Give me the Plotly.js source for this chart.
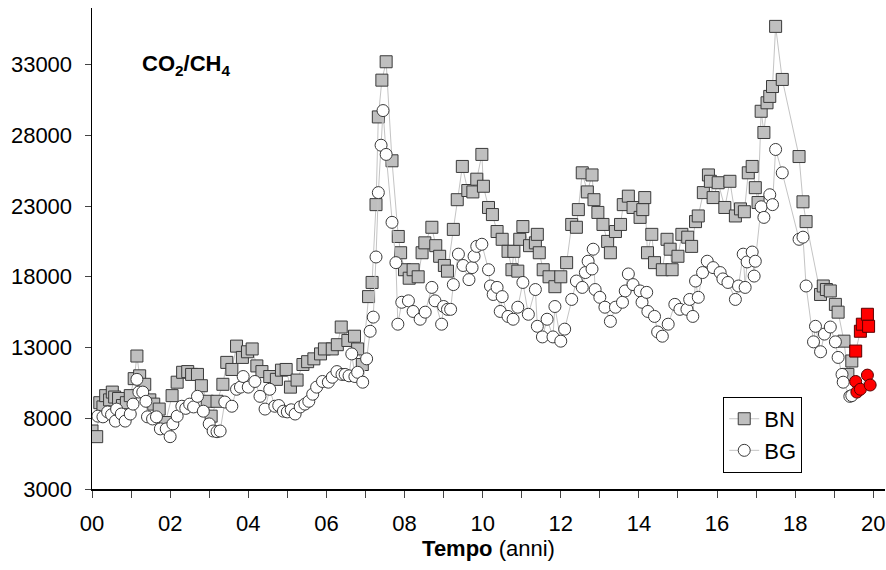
<!DOCTYPE html>
<html>
<head>
<meta charset="utf-8">
<script src="https://cdn.plot.ly/plotly-3.0.1.min.js"></script>
<style>html,body{margin:0;padding:0;background:#fff;}#chart{width:886px;height:570px;}</style>
</head>
<body>
<div id="chart"></div>
<script>
// BN series (years, CO2/CH4)
const bnT = [0.00,0.12,0.20,0.28,0.35,0.45,0.52,0.58,0.68,0.78,0.88,0.98,1.08,1.15,1.22,1.35,1.48,1.58,1.72,1.88,
2.05,2.18,2.32,2.45,2.55,2.70,2.80,2.95,3.05,3.20,3.35,3.45,3.58,3.70,3.85,3.98,4.10,4.22,4.35,4.55,4.72,4.85,4.97,
5.08,5.25,5.40,5.52,5.68,5.85,5.95,6.15,6.28,6.38,6.55,6.72,6.80,6.92,7.08,7.17,7.27,7.33,7.42,7.53,7.68,7.84,7.90,
8.00,8.12,8.22,8.35,8.45,8.52,8.70,8.80,8.90,9.02,9.10,9.25,9.35,9.48,9.62,9.75,9.85,9.98,10.02,10.15,10.25,10.37,
10.50,10.65,10.75,10.80,10.90,10.95,11.03,11.20,11.35,11.40,11.45,11.55,11.70,11.85,12.00,12.15,12.28,12.40,12.45,
12.55,12.68,12.80,12.85,12.95,13.08,13.20,13.27,13.40,13.53,13.60,13.73,13.85,14.03,14.10,14.15,14.22,14.33,14.40,
14.60,14.72,14.80,14.85,15.00,15.10,15.25,15.35,15.45,15.52,15.65,15.78,15.83,15.90,16.03,16.20,16.33,16.47,16.60,
16.70,16.80,16.90,16.98,17.05,17.13,17.20,17.28,17.35,17.42,17.50,17.67,18.10,18.20,18.28,18.65,18.72,18.80,18.90,
19.03,19.10,19.25,19.35,19.45];
const bnV = [7100,6700,9100,8800,9600,9300,9850,9500,9400,8900,9100,9600,10800,12400,11000,10400,9300,9000,8650,7700,
9600,10550,11250,11300,11100,11100,10300,9200,8150,9200,10400,11950,11450,13100,12300,12700,12900,11700,11300,10950,10750,11400,11450,
10200,10700,11800,12000,12200,12550,12900,12900,13200,14450,13500,13800,12900,11800,16600,17600,23100,29300,31900,33200,26200,20850,19700,
18500,17900,18500,18000,19700,20400,21500,20200,19450,18800,18400,21350,23450,25800,24100,24000,24900,26650,24400,22900,22400,21200,
20650,19800,18500,19800,18400,20650,21550,20200,20400,21000,19700,18500,18000,17300,18000,19000,21700,21500,22750,
25350,24000,25200,23450,22550,21700,20500,19700,21200,21700,23100,23700,22900,22200,22750,23600,19700,21000,19000,
18500,20650,19950,18500,19450,21000,20800,20150,21900,22300,23950,25200,24750,23600,24650,22900,24750,22300,22800,
22600,25350,25800,24300,23250,29700,28200,30300,30750,31450,35700,31950,26500,23300,21900,16750,17350,17100,17000,
16050,15500,13450,11100,12050];
// BN latest samples (red)
const bnRedT = [19.55,19.67,19.72,19.85,19.88];
const bnRedV = [12750,14150,14650,15350,14500];

// BG series
const bgT = [0.15,0.28,0.40,0.50,0.60,0.63,0.75,0.85,0.98,1.05,1.15,1.20,1.30,1.38,1.42,1.55,1.65,1.75,1.90,2.00,
2.07,2.18,2.30,2.40,2.50,2.60,2.70,2.85,3.00,3.10,3.20,3.28,3.40,3.58,3.70,3.80,3.87,4.00,4.17,4.30,4.43,4.55,4.68,
4.78,4.90,5.00,5.10,5.20,5.33,5.45,5.55,5.65,5.75,5.90,6.05,6.15,6.27,6.40,6.48,6.58,6.65,6.73,6.80,6.93,7.03,7.12,
7.20,7.27,7.33,7.40,7.45,7.53,7.68,7.78,7.83,7.93,8.10,8.22,8.40,8.53,8.70,8.78,8.95,9.00,9.10,9.18,9.25,9.38,9.50,
9.65,9.73,9.78,9.85,9.98,10.15,10.20,10.27,10.37,10.45,10.50,10.65,10.78,10.90,11.03,11.17,11.35,11.40,11.53,11.65,
11.80,11.85,12.00,12.10,12.28,12.40,12.55,12.63,12.70,12.80,12.83,12.88,13.00,13.13,13.27,13.40,13.58,13.65,13.73,
13.85,14.03,14.08,14.20,14.23,14.40,14.48,14.60,14.75,14.92,15.05,15.23,15.30,15.38,15.45,15.52,15.63,15.75,15.90,
16.08,16.15,16.28,16.47,16.55,16.67,16.72,16.77,16.90,16.95,16.98,17.13,17.20,17.35,17.42,17.50,17.67,18.10,18.20,
18.28,18.47,18.52,18.65,18.75,18.90,19.03,19.10,19.20,19.23,19.40,19.45];
const bgV = [8150,8100,8450,8250,7800,8650,8300,7800,8300,9000,10750,9850,9850,9200,8100,7950,8100,7250,7250,6700,
7600,8150,8850,8700,9000,8800,9550,8500,7600,7100,7050,7100,9150,8850,10050,10200,10950,10200,10600,9550,8650,10050,8850,
8900,8500,8450,8600,8300,8800,9000,9200,9700,10200,10600,10550,10900,11300,11100,11100,11000,12550,10950,11250,10550,12200,14150,
15150,19400,23950,27300,29750,26650,21850,19000,14650,16200,16300,15550,15000,15500,17250,16300,14650,15900,15700,15700,17450,19600,18800,
17800,18650,19450,20150,20300,18500,17350,16750,17250,15550,16600,15200,15000,15850,17600,15350,17100,14500,13750,15000,
13750,15900,13450,14300,16400,17700,17250,18300,19100,18550,19950,17100,16550,15850,14850,15850,16200,17000,18200,
17450,17000,16200,16900,15550,15200,14100,13800,14650,16050,15700,15700,16400,15200,17700,16550,18300,19100,18650,
18300,17850,17600,16400,17350,19600,17250,19050,19750,18050,19100,22950,22200,23800,23100,27000,25350,20650,20800,
17350,13400,14500,12700,13950,14450,13400,12300,11100,10550,9550,9600];
// BG latest samples (red)
const bgRedT = [19.55,19.58,19.67,19.85,19.92];
const bgRedV = [10600,9850,10050,11050,10350];

const xTickVals = [0,2,4,6,8,10,12,14,16,18,20];
const xTickText = ['00','02','04','06','08','10','12','14','16','18','20'];
const yTickVals = [3000,8000,13000,18000,23000,28000,33000];
const yTickText = ['3000','8000','13000','18000','23000','28000','33000'];

function colors(n, nRed, base, red) {
  const out = [];
  for (let i = 0; i < n + nRed; i++) out.push(i < n ? base : red);
  return out;
}

const bn = {
  x: bnT.concat(bnRedT), y: bnV.concat(bnRedV), name: 'BN', type: 'scatter', mode: 'lines+markers',
  line: {color: '#c4c4c4', width: 1},
  marker: {symbol: 'square', size: 12,
    color: colors(bnT.length, bnRedT.length, '#bfbfbf', '#ff0000'),
    line: {color: colors(bnT.length, bnRedT.length, '#3a3a3a', '#5a0000'), width: 1}}
};
const bg = {
  x: bgT.concat(bgRedT), y: bgV.concat(bgRedV), name: 'BG', type: 'scatter', mode: 'lines+markers',
  line: {color: '#c4c4c4', width: 1},
  marker: {symbol: 'circle', size: 12,
    color: colors(bgT.length, bgRedT.length, '#ffffff', '#ff0000'),
    line: {color: colors(bgT.length, bgRedT.length, '#3a3a3a', '#5a0000'), width: 1}}
};

const font = {family: 'Liberation Sans, Arial, sans-serif', color: '#000', size: 22};

const layout = {
  width: 886, height: 570,
  margin: {l: 92, r: 1, t: 8, b: 81},
  paper_bgcolor: '#fff', plot_bgcolor: '#fff',
  font: font,
  showlegend: true,
  legend: {x: 0.796, y: 0.1914, xanchor: 'left', yanchor: 'top', bgcolor: '#fff',
    bordercolor: '#000', borderwidth: 1, font: {family: font.family, size: 22, color: '#000'},
    itemwidth: 30, tracegroupgap: 0},
  xaxis: {range: [0, 20.3], tickmode: 'array', tickvals: xTickVals, ticktext: xTickText,
    ticks: 'outside', ticklen: 7, tickcolor: '#444', tickwidth: 1,
    minor: {tickmode: 'linear', tick0: 1, dtick: 2, ticks: 'outside', ticklen: 7, tickcolor: '#444', tickwidth: 1, showgrid: false},
    showline: true, linecolor: '#000', linewidth: 1.5, showgrid: false, zeroline: false,
    tickfont: {family: font.family, size: 22, color: '#000'}, ticklabelstandoff: 7,
    title: {text: '<b>Tempo</b> (anni)', font: {family: font.family, size: 22, color: '#000'}, standoff: 3}},
  yaxis: {range: [3000, 37000], tickmode: 'array', tickvals: yTickVals, ticktext: yTickText,
    ticks: 'outside', ticklen: 6, tickcolor: '#444', tickwidth: 1,
    showline: true, linecolor: '#000', linewidth: 1.5, showgrid: false, zeroline: false,
    tickfont: {family: font.family, size: 22, color: '#000'}, ticklabelstandoff: 8},
  annotations: [{text: '<b>CO<sub>2</sub>/CH<sub>4</sub></b>', xref: 'paper', yref: 'paper',
    x: 0.0605, y: 0.8815, xanchor: 'left', yanchor: 'middle', showarrow: false,
    font: {family: font.family, size: 22, color: '#000'}}]
};

Plotly.newPlot('chart', [bn, bg], layout, {displayModeBar: false, staticPlot: true});
</script>
</body>
</html>
